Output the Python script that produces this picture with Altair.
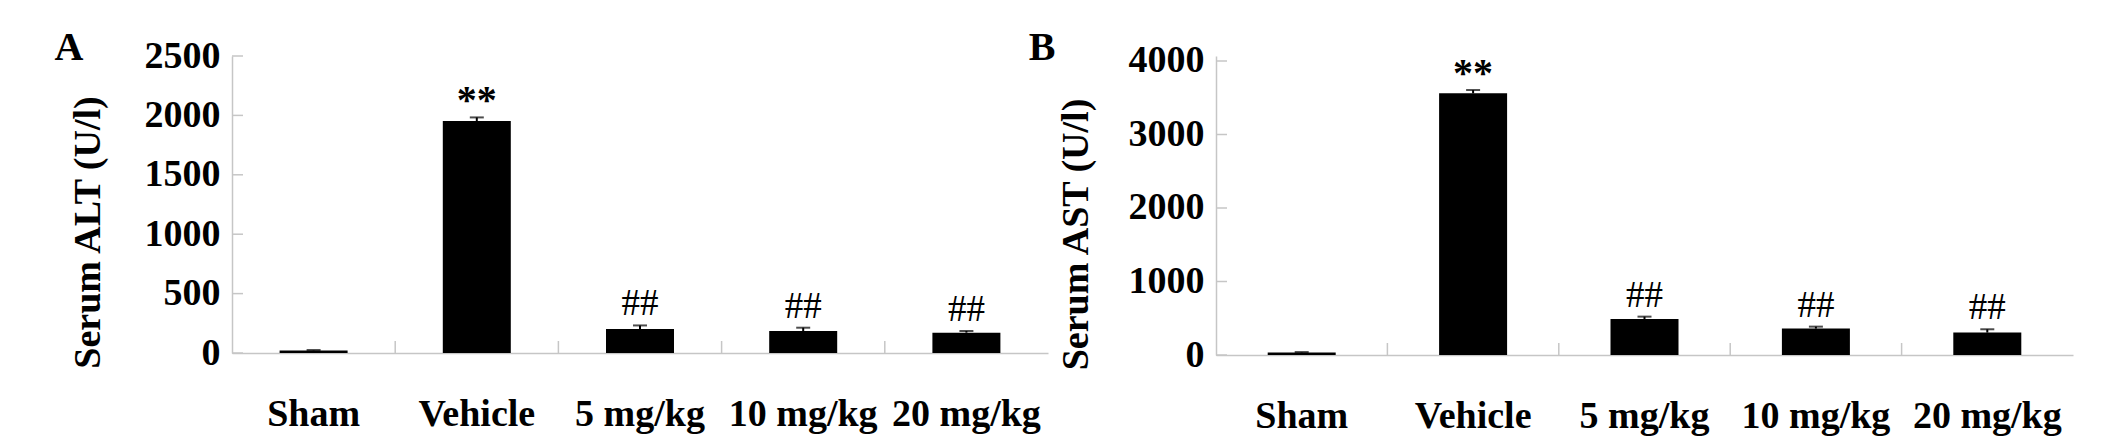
import altair as alt
import pandas as pd

categories = ["Sham", "Vehicle", "5 mg/kg", "10 mg/kg", "20 mg/kg"]

alt_mean = [22, 1953, 202, 185, 171]
alt_err = [3, 30, 30, 28, 14]
ast_mean = [35, 3560, 490, 359, 305]
ast_err = [5, 45, 32, 27, 45]
marks = ["", "**", "##", "##", "##"]

alt_ticks = [0, 500, 1000, 1500, 2000, 2500]
ast_ticks = [0, 1000, 2000, 3000, 4000]

FONT = "Liberation Serif"
GRAY = "#c6c6c6"


def panel(mean, err, tick_vals, ymax, title, letter, width, height,
          letter_x, title_pad, title_y):
    df = pd.DataFrame({"group": categories, "mean": mean, "err": err, "mark": marks})
    df["top"] = df["mean"] + df["err"]
    ticks_df = pd.DataFrame({"v": tick_vals})
    divs_df = pd.DataFrame({"group": categories[1:]})
    letter_df = pd.DataFrame({"t": [letter]})

    yscale = alt.Scale(domain=[0, ymax], nice=False, zero=True)
    xscale = alt.Scale(paddingInner=0, paddingOuter=0)

    xaxis = alt.Axis(
        title=None, labelAngle=0, labelFont=FONT, labelFontSize=38,
        labelFontWeight="bold", labelColor="black", labelPadding=42,
        ticks=False, tickSize=0, domainColor=GRAY, domainWidth=1.5, grid=False,
        bandPosition=0.5,
    )
    yaxis = alt.Axis(
        values=tick_vals, format="d", title=title, titleFont=FONT,
        titleFontSize=38, titleFontWeight="bold", titleColor="black",
        titlePadding=title_pad, titleY=title_y,
        labelFont=FONT, labelFontSize=38, labelFontWeight="bold",
        labelColor="black", labelPadding=12, ticks=False, tickSize=0,
        domainColor=GRAY, domainWidth=1.5, grid=False, labelOverlap=False,
    )

    base = alt.Chart(df)
    bars = base.mark_bar(color="black", width=68).encode(
        x=alt.X("group:N", sort=categories, scale=xscale, axis=xaxis),
        y=alt.Y("mean:Q", scale=yscale, axis=yaxis),
    )
    ebar = base.mark_rule(color="black", strokeWidth=2).encode(
        x=alt.X("group:N", sort=categories),
        y=alt.Y("mean:Q"),
        y2="top:Q",
    )
    cap = base.mark_tick(color="black", thickness=2, size=14).encode(
        x=alt.X("group:N", sort=categories),
        y=alt.Y("top:Q"),
    )
    stars = base.transform_filter(alt.datum.mark == "**").mark_text(
        font=FONT, fontSize=40, fontWeight="bold", color="black",
        baseline="alphabetic", dy=-4,
    ).encode(
        x=alt.X("group:N", sort=categories),
        y=alt.Y("top:Q"),
        text="mark:N",
    )
    hashes = base.transform_filter(alt.datum.mark == "##").mark_text(
        font=FONT, fontSize=37, fontWeight="normal", color="black",
        baseline="alphabetic", dy=-10,
    ).encode(
        x=alt.X("group:N", sort=categories),
        y=alt.Y("top:Q"),
        text="mark:N",
    )
    divs = alt.Chart(divs_df).mark_rule(color=GRAY, strokeWidth=1.5).encode(
        x=alt.X("group:N", sort=categories, bandPosition=0),
        y=alt.value(height),
        y2=alt.value(height - 12),
    )
    yticks = alt.Chart(ticks_df).mark_rule(color=GRAY, strokeWidth=1.5).encode(
        y=alt.Y("v:Q"),
        x=alt.value(0),
        x2=alt.value(11),
    )
    let = alt.Chart(letter_df).mark_text(
        font=FONT, fontSize=40, fontWeight="bold", color="black",
        baseline="alphabetic", align="center",
    ).encode(text="t:N", x=alt.value(letter_x), y=alt.value(4))

    return alt.layer(bars, ebar, cap, stars, hashes, divs, yticks, let).properties(
        width=width, height=height
    )


pa = panel(alt_mean, alt_err, alt_ticks, 2500, "Serum ALT (U/l)", "A",
           816, 297, -163, 37, 176)
pb = panel(ast_mean, ast_err, ast_ticks, 4068, "Serum AST (U/l)", "B",
           857, 299, -174, 33, 178)

chart = (
    alt.hconcat(pa, pb, spacing=168, bounds="flush")
    .properties(padding={"left": 46, "top": 20, "right": 5, "bottom": 5},
                background="white")
    .configure_view(stroke=None)
)

chart.save("out.html", embed_options={"renderer": "svg", "actions": False})
